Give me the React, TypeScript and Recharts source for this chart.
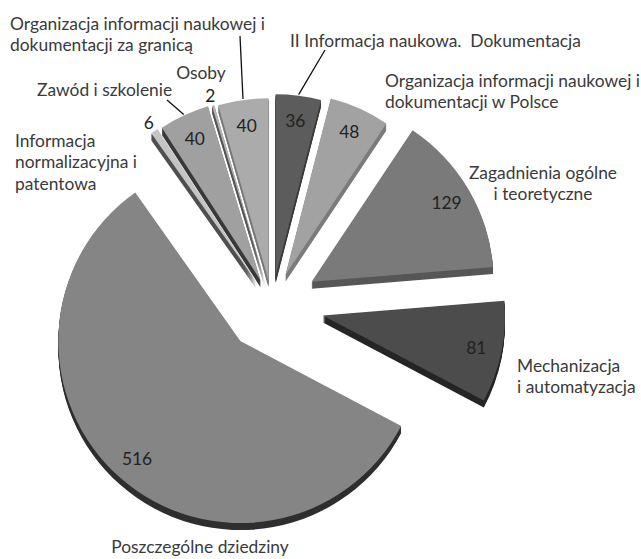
import React from 'react';
import { PieChart, Pie, Sector } from 'recharts';

// categories, clockwise from 12 o'clock
const categories = [
  'II Informacja naukowa.  Dokumentacja',
  'Organizacja informacji naukowej i\ndokumentacji w Polsce',
  'Zagadnienia ogólne\ni teoretyczne',
  'Mechanizacja\ni automatyzacja',
  'Poszczególne dziedziny',
  'Informacja\nnormalizacyjna i\npatentowa',
  'Zawód i szkolenie',
  'Osoby',
  'Organizacja informacji naukowej i\ndokumentacji za granicą',
];
const counts = [36, 48, 129, 81, 516, 6, 40, 2, 40];

// styling
const topColors = ['#5c5c5c', '#a2a2a2', '#7a7a7a', '#4c4c4c', '#858585', '#c4c4c4', '#a0a0a0', '#b4b4b4', '#ababab'];
const sideColors = ['#3a3a3a', '#7c7c7c', '#575757', '#262626', '#2f2f2f', '#505050', '#3a3a3a', '#555555', '#7a7a7a'];
const explode = [29, 33, 46, 52, 48, 28, 27, 26, 25];
const DEPTH = 7;
const RAD = Math.PI / 180;
const FONT = 'Lato, "Noto Sans", sans-serif';
const FS = 17.4;

// category label placement: x, y (first line centre), anchor, leader end
const labelLayout: { x: number; y: number; anchor: 'start' | 'middle'; leader?: [number, number] }[] = [
  { x: 290, y: 40, anchor: 'start', leader: [325, 50] },
  { x: 385, y: 80, anchor: 'start' },
  { x: 543, y: 172, anchor: 'middle' },
  { x: 517, y: 365, anchor: 'start' },
  { x: 200, y: 546, anchor: 'middle' },
  { x: 15, y: 140, anchor: 'start' },
  { x: 37, y: 89, anchor: 'start', leader: [167, 100] },
  { x: 201, y: 72, anchor: 'middle' },
  { x: 10, y: 23, anchor: 'start', leader: [240, 36] },
];

const data = categories.map((name, idx) => ({ name, value: counts[idx], idx }));

const shift = (off: number, angle: number) => ({
  dx: off * Math.cos(-angle * RAD),
  dy: off * Math.sin(-angle * RAD),
});

const Slice3D = (props: any) => {
  const { cx, cy, innerRadius, outerRadius, startAngle, endAngle, midAngle } = props;
  const i = props.payload?.idx ?? props.idx ?? 0;
  const { dx, dy } = shift(explode[i], midAngle);
  const layers = [];
  for (let d = DEPTH; d >= 1; d--) {
    layers.push(
      <Sector
        key={d}
        cx={cx + dx}
        cy={cy + dy + d}
        innerRadius={innerRadius}
        outerRadius={outerRadius}
        startAngle={startAngle}
        endAngle={endAngle}
        fill={sideColors[i]}
        stroke="none"
      />
    );
  }
  return (
    <g>
      {layers}
      <Sector
        cx={cx + dx}
        cy={cy + dy}
        innerRadius={innerRadius}
        outerRadius={outerRadius}
        startAngle={startAngle}
        endAngle={endAngle}
        fill={topColors[i]}
        stroke="none"
      />
    </g>
  );
};

const renderLabel = (props: any) => {
  const { cx, cy, midAngle, outerRadius, percent, value } = props;
  const i = props.index ?? props.payload?.idx ?? 0;
  const { dx, dy } = shift(explode[i], midAngle);
  const ox = cx + dx;
  const oy = cy + dy;
  const r = percent < 0.01 ? outerRadius + 10 : outerRadius * 0.86;
  const p = shift(r, midAngle);
  const lay = labelLayout[i];
  const lines = categories[i].split('\n');
  const edge = shift(outerRadius + 1, midAngle);
  return (
    <g>
      <text
        x={ox + p.dx}
        y={oy + p.dy}
        textAnchor="middle"
        dominantBaseline="central"
        fontFamily={FONT}
        fontSize={FS}
        fill="#222"
      >
        {value}
      </text>
      {lay.leader && (
        <line x1={ox + edge.dx} y1={oy + edge.dy} x2={lay.leader[0]} y2={lay.leader[1]} stroke="#111" strokeWidth={1.3} />
      )}
      <text textAnchor={lay.anchor} fontFamily={FONT} fontSize={FS} fill="#3a3a3a" style={{ whiteSpace: 'pre' }}>
        {lines.map((ln, k) => (
          <tspan key={k} x={lay.x} y={lay.y + k * 21.5} dominantBaseline="central">
            {ln}
          </tspan>
        ))}
      </text>
    </g>
  );
};

export default function App() {
  return (
    <div style={{ position: 'absolute', left: 0, top: 0, width: 641, height: 559, background: '#fff' }}>
      <PieChart width={641} height={559} margin={{ top: 0, right: 0, bottom: 0, left: 0 }}>
        <Pie
          data={data}
          dataKey="value"
          nameKey="name"
          cx={272}
          cy={305}
          outerRadius={182}
          startAngle={90}
          endAngle={-270}
          stroke="none"
          isAnimationActive={false}
          shape={Slice3D}
          activeShape={Slice3D}
          inactiveShape={Slice3D}
          label={renderLabel}
          labelLine={false}
        />
      </PieChart>
    </div>
  );
}
